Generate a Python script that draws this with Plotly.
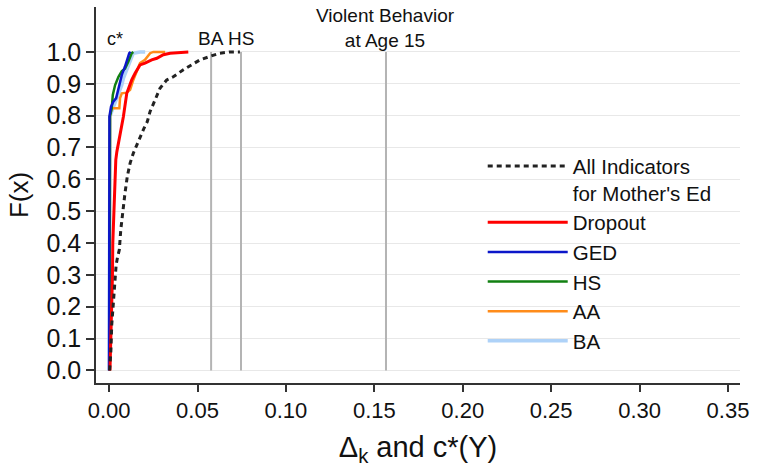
import plotly.graph_objects as go

# ---- data ----
all_x = [0.0003, 0.001, 0.0015, 0.0021, 0.0028, 0.0032, 0.004, 0.0047, 0.0058, 0.0066, 0.0077, 0.009, 0.0103,
         0.0119, 0.0137, 0.016, 0.0179, 0.0198, 0.0216, 0.0232, 0.026, 0.0288, 0.0326, 0.0363, 0.042, 0.0467,
         0.0514, 0.0571, 0.0627, 0.0684, 0.074]
all_y = [0.0, 0.06, 0.143, 0.196, 0.248, 0.29, 0.332, 0.353, 0.379, 0.441, 0.504, 0.557, 0.609,
         0.651, 0.682, 0.714, 0.740, 0.761, 0.781, 0.813, 0.849, 0.886, 0.912, 0.922, 0.944, 0.959,
         0.975, 0.986, 0.996, 1.0, 1.0]

dropout_x = [0.0005, 0.001, 0.0015, 0.0019, 0.0021, 0.0027, 0.0033, 0.0038, 0.0044, 0.0053, 0.0062, 0.0077, 0.0081,
             0.01, 0.0128, 0.0147, 0.0175, 0.0203, 0.0241, 0.027, 0.0307, 0.0345, 0.0383, 0.042, 0.0448]
dropout_y = [0.0, 0.086, 0.19, 0.295, 0.40, 0.50, 0.59, 0.661, 0.687, 0.714, 0.745, 0.78, 0.797,
             0.870, 0.912, 0.933, 0.959, 0.965, 0.975, 0.98, 0.991, 0.996, 0.998, 1.0, 1.0]

ged_x = [0.0, 0.0002, 0.0011, 0.0024, 0.004, 0.0053, 0.0062, 0.0072, 0.009, 0.01, 0.0114, 0.0122]
ged_y = [0.0, 0.797, 0.828, 0.844, 0.855, 0.886, 0.907, 0.928, 0.954, 0.975, 0.996, 1.0]

hs_x = [0.0003, 0.0005, 0.0015, 0.0021, 0.0034, 0.0053, 0.0072, 0.009, 0.0109, 0.0128, 0.0137]
hs_y = [0.0, 0.797, 0.823, 0.865, 0.896, 0.922, 0.94, 0.947, 0.97, 0.996, 1.0]

aa_x = [0.0003, 0.0005, 0.0015, 0.0058, 0.0062, 0.0072, 0.01, 0.0119, 0.0137, 0.0156, 0.0175, 0.0203,
        0.0232, 0.025, 0.0317]
aa_y = [0.0, 0.80, 0.823, 0.823, 0.855, 0.870, 0.872, 0.881, 0.912, 0.938, 0.965, 0.975,
        0.996, 1.0, 1.0]

ba_x = [0.0, 0.0005, 0.0015, 0.0034, 0.0053, 0.0072, 0.0081, 0.01, 0.0119, 0.0137, 0.0175, 0.0204]
ba_y = [0.0, 0.797, 0.813, 0.839, 0.865, 0.896, 0.917, 0.944, 0.97, 0.996, 1.0, 1.0]

ref_lines_x = [0.0577, 0.0746, 0.1566]
ref_labels = ["BA", "HS", "Violent Behavior<br>at Age 15"]
ref_label_y = [1.042, 1.042, 1.074]

x_ticks = [0.0, 0.05, 0.10, 0.15, 0.20, 0.25, 0.30, 0.35]
y_ticks = [0.0, 0.1, 0.2, 0.3, 0.4, 0.5, 0.6, 0.7, 0.8, 0.9, 1.0]

FONT = "Liberation Sans, Arial, sans-serif"

fig = go.Figure()

# reference vertical lines
for v in ref_lines_x:
    fig.add_trace(go.Scatter(x=[v, v], y=[0, 1], mode="lines", line=dict(color="#b4b4b4", width=2),
                             showlegend=False, hoverinfo="skip"))

series = [
    ("BA", ba_x, ba_y, "#aed2f8", 3.5, 6, "solid"),
    ("AA", aa_x, aa_y, "#ff8c1a", 2.5, 5, "solid"),
    ("HS", hs_x, hs_y, "#118011", 2.5, 4, "solid"),
    ("GED", ged_x, ged_y, "#0b16c9", 2.5, 3, "solid"),
    ("Dropout", dropout_x, dropout_y, "#ff0000", 3, 2, "solid"),
    ("All Indicators<br>for Mother's Ed", all_x, all_y, "#222222", 3, 1, "5px,4px"),
]
for name, xs, ys, col, w, rank, dash in series:
    fig.add_trace(go.Scatter(x=xs, y=ys, mode="lines", name=name,
                             line=dict(color=col, width=w, dash=dash),
                             legendrank=rank, legendgroup=name))

for v, lab, ly in zip(ref_lines_x, ref_labels, ref_label_y):
    fig.add_annotation(x=v, y=ly, xref="x", yref="y", text=lab, showarrow=False,
                       font=dict(family=FONT, size=19, color="#111111"), xanchor="center", yanchor="middle")
fig.add_annotation(x=0.0035, y=1.042, xref="x", yref="y", text="c*", showarrow=False,
                   font=dict(family=FONT, size=18, color="#111111"), xanchor="center", yanchor="middle")

fig.update_layout(
    width=757, height=467,
    margin=dict(l=96, r=17, t=7, b=84),
    paper_bgcolor="white", plot_bgcolor="white",
    font=dict(family=FONT, color="#111111"),
    showlegend=True,
    legend=dict(x=0.6005, y=0.63, xanchor="left", yanchor="top", bgcolor="rgba(0,0,0,0)",
                font=dict(family=FONT, size=20.5, color="#111111"), itemwidth=80, valign="top",
                tracegroupgap=0, traceorder="normal"),
    xaxis=dict(range=[-0.0074, 0.3568], tickvals=x_ticks, tickformat=".2f", ticks="outside", ticklen=7,
               tickwidth=1.5, tickcolor="#333333", showline=True, linecolor="#333333", linewidth=1.5,
               showgrid=False, zeroline=False, tickfont=dict(family=FONT, size=22),
               title=dict(text="Δ<sub>k</sub> and c*(Y)", font=dict(family=FONT, size=29), standoff=16)),
    yaxis=dict(range=[-0.0395, 1.141], tickvals=y_ticks, tickformat=".1f", ticks="outside", ticklen=8,
               tickwidth=1.5, tickcolor="#333333", showline=True, linecolor="#333333", linewidth=1.5,
               showgrid=True, gridcolor="#e8e8e8", gridwidth=1, zeroline=False,
               tickfont=dict(family=FONT, size=25),
               title=dict(text="F(x)", font=dict(family=FONT, size=26), standoff=10)),
)

fig.write_html("out.html")
